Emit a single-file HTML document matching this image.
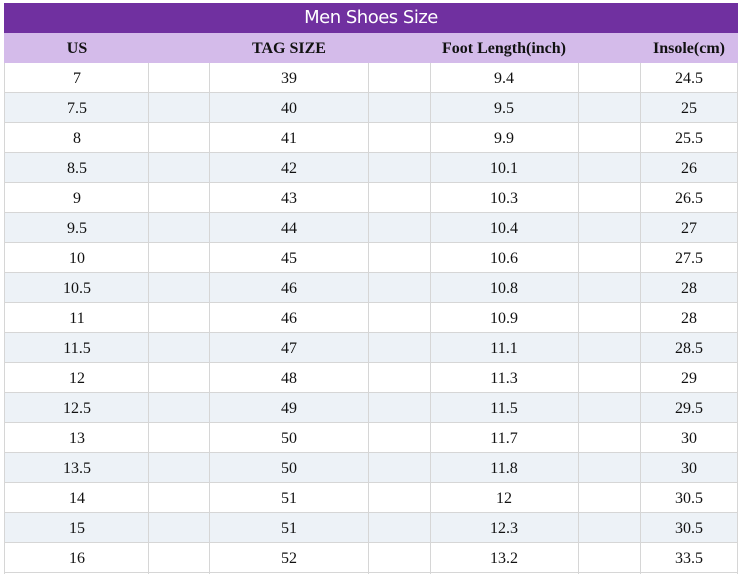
<!DOCTYPE html>
<html><head><style>
html,body{margin:0;padding:0;background:#fff;width:742px;height:577px;overflow:hidden}
.t{position:absolute;left:4px;top:3px;width:734px;height:30px;background:#7030a0;color:#fff;font:18px "DejaVu Sans","Liberation Sans",sans-serif;text-align:center;line-height:30px;letter-spacing:-0.5px}
.h{position:absolute;left:4px;top:33px;width:734px;height:30px;background:#d4bbea;border-bottom:1px solid #e0d5ee}
.r{position:absolute;left:4px;width:734px;height:29px;border-bottom:1px solid #d6d6d6}
.c{position:absolute;width:120px;margin-left:-60px;text-align:center;font:16px "Liberation Serif",serif;color:#111;line-height:30px}
.hb{font-weight:bold;font-size:16px}
.v{position:absolute;top:63px;height:511px;width:1px;background:#d6d6d6}
</style></head><body>
<div class="t">Men Shoes Size</div>
<div class="h"></div>
<div class="c hb" style="left:77px;top:34px">US</div>
<div class="c hb" style="left:289px;top:34px">TAG SIZE</div>
<div class="c hb" style="left:504px;top:34px;width:170px;margin-left:-85px">Foot Length(inch)</div>
<div class="c hb" style="left:689px;top:34px">Insole(cm)</div>
<div id="rows"></div>
<script>
var d=[["7",39,"9.4","24.5"],["7.5",40,"9.5","25"],["8",41,"9.9","25.5"],["8.5",42,"10.1","26"],["9",43,"10.3","26.5"],["9.5",44,"10.4","27"],["10",45,"10.6","27.5"],["10.5",46,"10.8","28"],["11",46,"10.9","28"],["11.5",47,"11.1","28.5"],["12",48,"11.3","29"],["12.5",49,"11.5","29.5"],["13",50,"11.7","30"],["13.5",50,"11.8","30"],["14",51,"12","30.5"],["15",51,"12.3","30.5"],["16",52,"13.2","33.5"]];
var h="",xs=[77,289,504,689];
d.forEach(function(r,i){var y=63+i*30;
h+='<div class="r" style="top:'+y+'px;background:'+(i%2?'#edf2f7':'#fff')+'"></div>';
r.forEach(function(v,j){h+='<div class="c" style="left:'+xs[j]+'px;top:'+(y+1)+'px">'+v+'</div>';});});
[4,148,209,368,430,578,640,737].forEach(function(x){h+='<div class="v" style="left:'+x+'px"></div>';});
document.getElementById("rows").innerHTML=h;
</script>
</body></html>
